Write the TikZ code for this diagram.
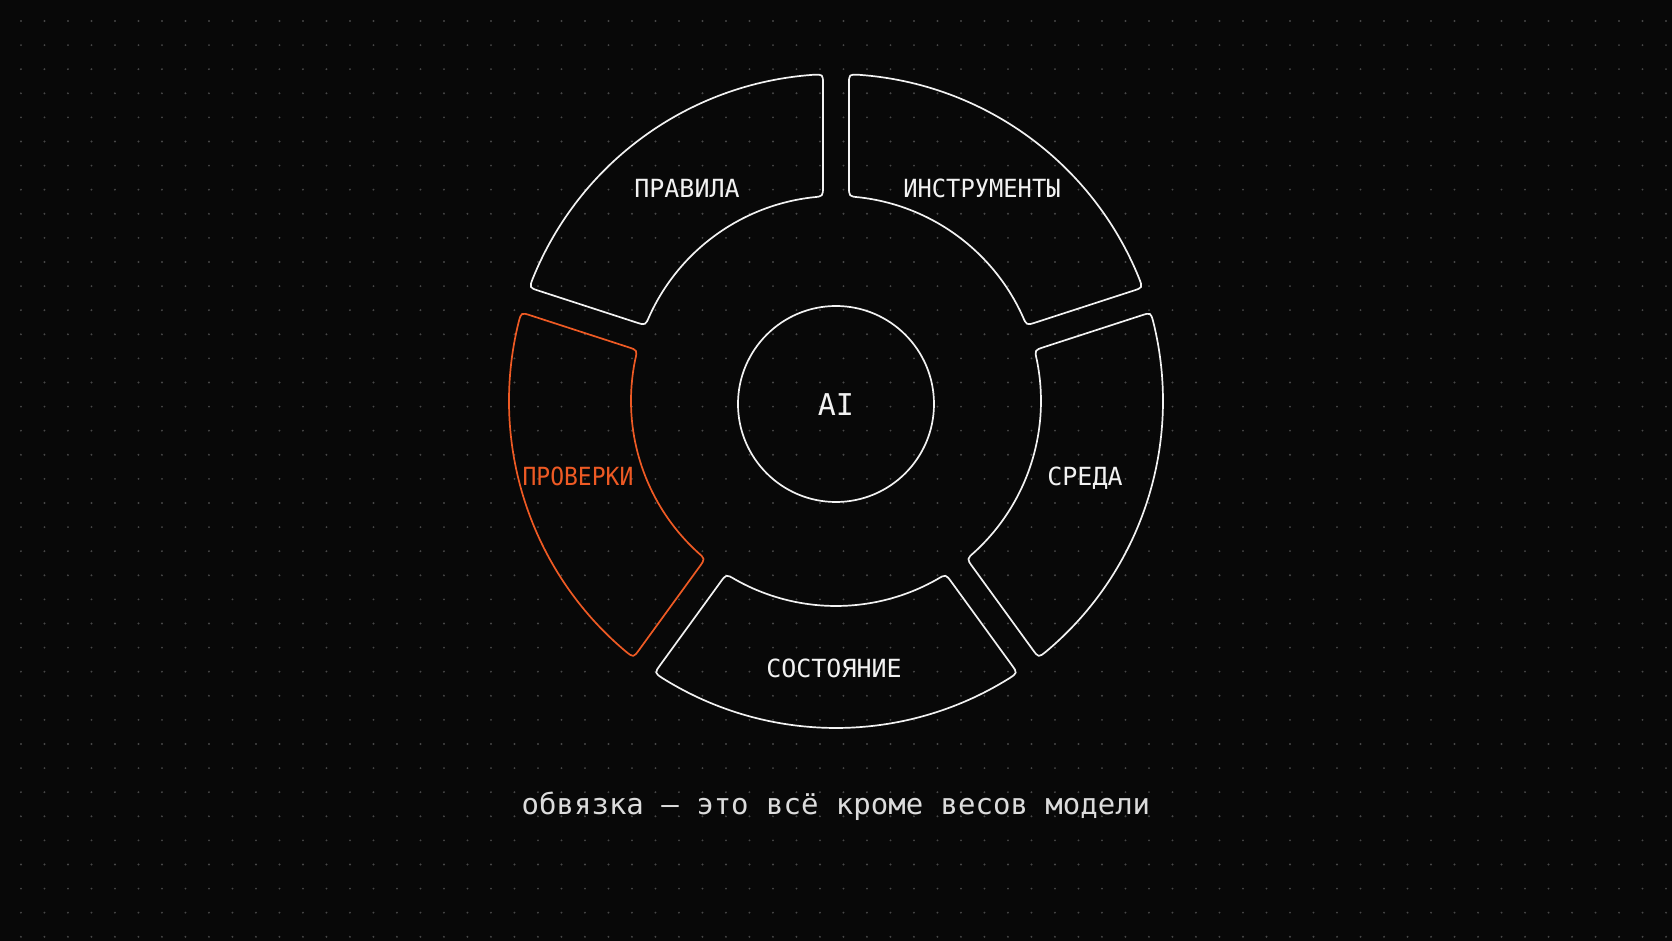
\documentclass[tikz,border=0pt]{standalone}
\usepackage{fontspec}
\usepackage{graphicx}
\newfontfamily\monof{DejaVu Sans Mono}
\usetikzlibrary{calc}
\definecolor{bg}{HTML}{080808}
\definecolor{dotc}{HTML}{474747}
\definecolor{ink}{HTML}{F2F2F2}
\definecolor{accent}{HTML}{EE5A24}
\definecolor{subt}{HTML}{DCDCDC}

\newcommand\ringseg[3]{%
  \pgfmathsetmacro\rsOa{#1+asin(13/327)}%
  \pgfmathsetmacro\rsOb{#2-asin(13/327)}%
  \pgfmathsetmacro\rsIa{#1+asin(13/205)}%
  \pgfmathsetmacro\rsIb{#2-asin(13/205)}%
  \pgfmathsetmacro\rsdO{10/327*180/pi}%
  \pgfmathsetmacro\rsdI{10/205*180/pi}%
  \pgfmathsetmacro\rsOas{\rsOa+\rsdO}%
  \pgfmathsetmacro\rsObs{\rsOb-\rsdO}%
  \pgfmathsetmacro\rsIas{\rsIa+\rsdI}%
  \pgfmathsetmacro\rsIbs{\rsIb-\rsdI}%
  \coordinate (#3-o1) at (\rsOa:327);
  \coordinate (#3-o2) at (\rsOb:327);
  \coordinate (#3-i1) at (\rsIa:205);
  \coordinate (#3-i2) at (\rsIb:205);
  \coordinate (#3-s) at (\rsOas:327);
}

\tikzset{
  seg/.style={draw=ink, line width=0.85pt, line join=round},
  segacc/.style={draw=accent, line width=0.85pt, line join=round},
  lab/.style={text=ink, font=\monof\fontsize{12.5pt}{15pt}\selectfont, inner sep=0pt, anchor=base},
}

\newcommand\drawseg[2]{%
  \draw[#2] (#1-s) arc[start angle=\rsOas, end angle=\rsObs, radius=327]
    .. controls (#1-o2) .. ($(#1-o2)!5pt!(#1-i2)$)
    -- ($(#1-i2)!5pt!(#1-o2)$)
    .. controls (#1-i2) .. (\rsIbs:205)
    arc[start angle=\rsIbs, end angle=\rsIas, radius=205]
    .. controls (#1-i1) .. ($(#1-i1)!5pt!(#1-o1)$)
    -- ($(#1-o1)!5pt!(#1-i1)$)
    .. controls (#1-o1) .. (#1-s) -- cycle;
}

\begin{document}
\begin{tikzpicture}[x=0.5pt, y=0.5pt]
\useasboundingbox[fill=bg] (-836,-540) rectangle (836,401);
% dot grid
\foreach \i in {0,...,70}{
  \foreach \j in {0,...,38}{
    \fill[dotc] ({21+23.5*\i-836},{401-21-24.1*\j}) circle[radius=1.05];
  }
}
% segments
\ringseg{90}{162}{rules}\drawseg{rules}{seg}
\ringseg{18}{90}{tools}\drawseg{tools}{seg}
\ringseg{-54}{18}{env}\drawseg{env}{seg}
\ringseg{-126}{-54}{state}\drawseg{state}{seg}
\ringseg{162}{234}{checks}\drawseg{checks}{segacc}
% center
\node[draw=ink, line width=0.85pt, circle, minimum size=98pt, inner sep=0pt] (ai) at (0,-3) {};
\node[lab, font=\monof\fontsize{15pt}{18pt}\selectfont] (ailab) at (0,-15) {AI};
% labels
\node[lab] (lrules) at (-149,203) {ПРАВИЛА};
\node[lab] (ltools) at (146,203) {\scalebox{0.95}[1]{ИНСТРУМЕНТЫ}};
\node[lab, text=accent] (lchecks) at (-258,-84.5) {\scalebox{0.92}[1]{ПРОВЕРКИ}};
\node[lab] (lenv) at (249,-84.5) {СРЕДА};
\node[lab] (lstate) at (-2,-277) {СОСТОЯНИЕ};
\node[lab, text=subt, font=\monof\fontsize{14.5pt}{17pt}\selectfont] (caption) at (0,-414) {обвязка — это всё кроме весов модели};
\end{tikzpicture}
\end{document}
